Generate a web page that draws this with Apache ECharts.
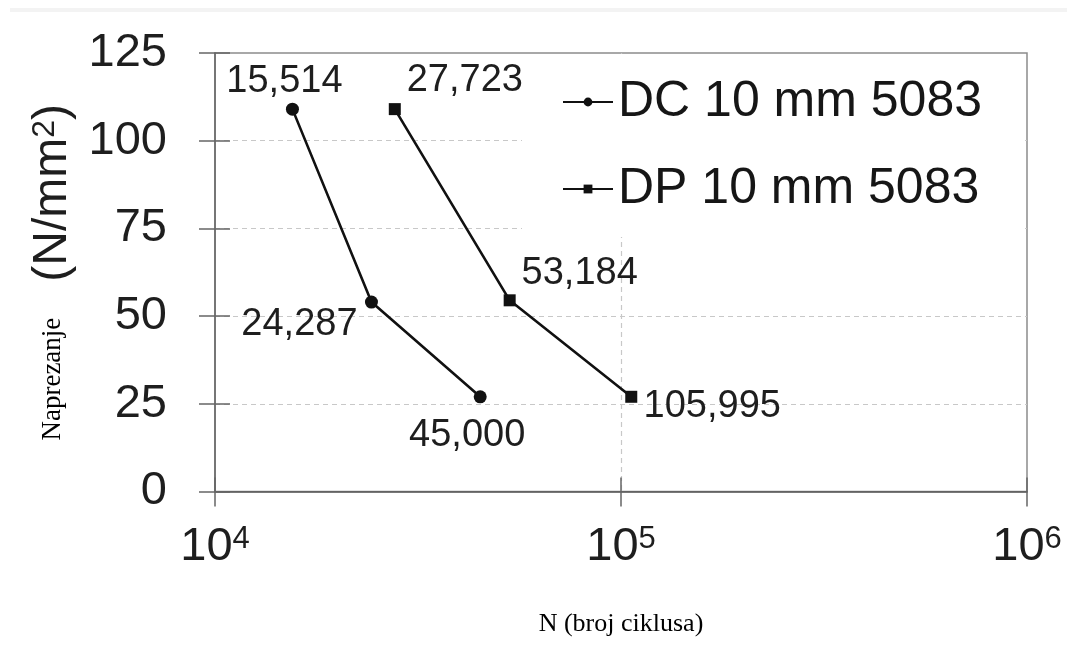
<!DOCTYPE html>
<html>
<head>
<meta charset="utf-8">
<script src="https://cdn.jsdelivr.net/npm/echarts@6/dist/echarts.min.js"></script>
<style>
html,body{margin:0;padding:0;background:#fff;}
#chart{width:1067px;height:645px;}
</style>
</head>
<body>
<div id="chart"></div>
<script>
// ---- data ----
const seriesNames = ['DC 10 mm 5083', 'DP 10 mm 5083'];
const dcCycles = [15514, 24287, 45000];
const dcStress = [109, 54, 27];
const dpCycles = [27723, 53184, 105995];
const dpStress = [109, 54.5, 27];
const yTickValues = [0, 25, 50, 75, 100, 125];
const xTickValues = [10000, 100000, 1000000];
const yTitleMain = 'Naprezanje';
const yTitleUnit = '(N/mm';
const yTitleSup = '2';
const xTitle = 'N (broj ciklusa)';

// ---- layout (label offsets relative to each point) ----
const dcLabelOffsets = [[-8, -28], [-72, 22], [-13, 39]];
const dpLabelOffsets = [[70, -29], [70, -27], [81, 10]];

function buildData(xs, ys, offsets) {
  return xs.map((x, i) => ({
    value: [x, ys[i]],
    label: { offset: offsets[i] }
  }));
}

const fmtThousands = v => v.toLocaleString('en-US');
const sans = 'Liberation Sans, Arial, sans-serif';
const serif = 'Liberation Serif, Times New Roman, serif';

const chart = echarts.init(document.getElementById('chart'), null, { renderer: 'canvas' });

const labelCommon = {
  show: true,
  position: 'inside',
  align: 'center',
  verticalAlign: 'middle',
  fontFamily: sans,
  fontSize: 38,
  color: '#1e1e1e',
  formatter: p => fmtThousands(p.value[0])
};

const option = {
  backgroundColor: '#fff',
  animation: false,
  graphic: [{
    type: 'rect',
    shape: { x: 10, y: 8, width: 1057, height: 4 },
    style: { fill: '#f3f3f3' },
    silent: true
  }],
  grid: {
    left: 215, right: 40, top: 53, bottom: 153.5,
    show: true, borderColor: '#8c8c8c', borderWidth: 1.5, backgroundColor: 'transparent'
  },
  legend: {
    data: seriesNames,
    orient: 'vertical',
    left: 522, top: 54,
    padding: [20, 42, 20, 40],
    backgroundColor: '#fff',
    itemWidth: 50, itemHeight: 11, itemGap: 31,
    align: 'left',
    textStyle: { fontFamily: sans, fontSize: 50, lineHeight: 56, color: '#161616' }
  },
  xAxis: [{
    type: 'log', logBase: 10, min: 10000, max: 1000000,
    position: 'bottom',
    axisLine: { show: true, lineStyle: { color: '#555', width: 1.6 } },
    axisTick: { show: true, length: 15, lineStyle: { color: '#666', width: 1.5 } },
    axisLabel: {
      margin: 32,
      formatter: v => '{b|10}{s|' + Math.round(Math.log10(v)) + '}',
      rich: {
        b: { fontFamily: sans, fontSize: 47, lineHeight: 48, color: '#1e1e1e' },
        s: { fontFamily: sans, fontSize: 31, lineHeight: 31, verticalAlign: 'top', color: '#1e1e1e' }
      }
    },
    splitLine: { show: true, showMinLine: false, showMaxLine: false,
      lineStyle: { color: '#c8c8c8', type: [5, 4], width: 1.2 } },
    name: xTitle, nameLocation: 'middle', nameGap: 120,
    nameTextStyle: { fontFamily: serif, fontSize: 26, color: '#000' }
  }, {
    type: 'log', logBase: 10, min: 10000, max: 1000000,
    position: 'bottom',
    axisLine: { show: false },
    axisTick: { show: true, inside: true, length: 14, lineStyle: { color: '#666', width: 1.5 } },
    axisLabel: { show: false },
    splitLine: { show: false }
  }],
  yAxis: [{
    type: 'value', min: 0, max: 125, interval: 25,
    position: 'left',
    axisLine: { show: true, lineStyle: { color: '#6a6a6a', width: 1.6 } },
    axisTick: { show: true, length: 16, lineStyle: { color: '#666', width: 1.5 } },
    axisLabel: {
      margin: 48, fontFamily: sans, fontSize: 47, color: '#1e1e1e',
      formatter: v => yTickValues.includes(v) ? String(v) : ''
    },
    splitLine: { show: true, showMinLine: false, showMaxLine: false,
      lineStyle: { color: '#c8c8c8', type: [5, 4], width: 1.2 } },
    name: '{a|' + yTitleMain + '}{u|' + yTitleUnit + '}{s|' + yTitleSup + '}{u|)}',
    nameLocation: 'middle', nameRotate: 90, nameGap: 138,
    nameTextStyle: {
      rich: {
        a: { fontFamily: serif, fontSize: 27, lineHeight: 48, color: '#000', padding: [0, 36, 0, 0] },
        u: { fontFamily: sans, fontSize: 48, lineHeight: 48, color: '#1e1e1e' },
        s: { fontFamily: sans, fontSize: 32, lineHeight: 32, verticalAlign: 'top', color: '#1e1e1e' }
      }
    }
  }, {
    type: 'value', min: 0, max: 125, interval: 25,
    position: 'left',
    axisLine: { show: false },
    axisTick: { show: true, inside: true, length: 15, lineStyle: { color: '#666', width: 1.5 } },
    axisLabel: { show: false },
    splitLine: { show: false }
  }],
  series: [{
    name: seriesNames[0],
    type: 'line',
    xAxisIndex: 0, yAxisIndex: 0,
    data: buildData(dcCycles, dcStress, dcLabelOffsets),
    symbol: 'circle', symbolSize: 13,
    lineStyle: { color: '#111', width: 2.6 },
    itemStyle: { color: '#111' },
    label: labelCommon,
    z: 3
  }, {
    name: seriesNames[1],
    type: 'line',
    xAxisIndex: 0, yAxisIndex: 0,
    data: buildData(dpCycles, dpStress, dpLabelOffsets),
    symbol: 'rect', symbolSize: 12,
    lineStyle: { color: '#111', width: 2.6 },
    itemStyle: { color: '#111' },
    label: labelCommon,
    z: 3
  }]
};

chart.setOption(option);
</script>
</body>
</html>
